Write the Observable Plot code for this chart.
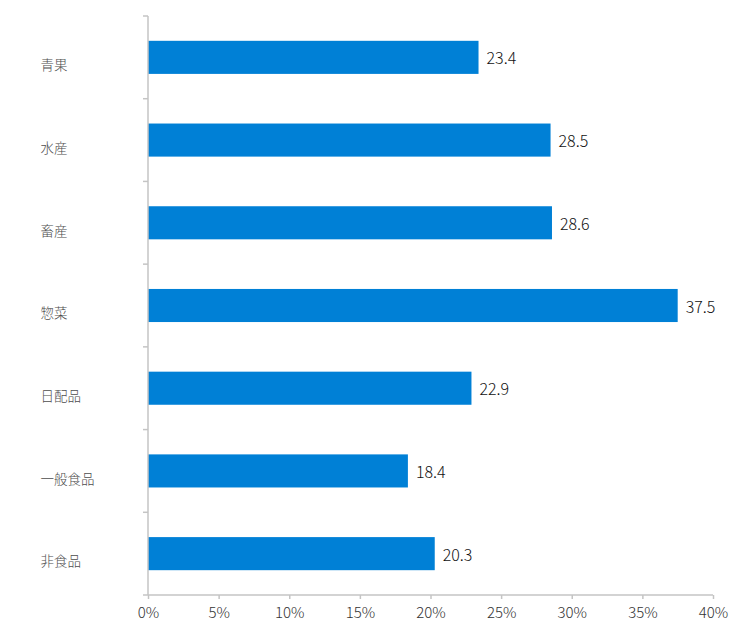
<!DOCTYPE html>
<html><head><meta charset="utf-8">
<script src="https://cdn.jsdelivr.net/npm/d3@7"></script>
<script src="https://cdn.jsdelivr.net/npm/@observablehq/plot@0.6"></script>
<style>body{margin:0;background:#fff;} svg{display:block;}</style>
</head><body><div id="chart"></div>
<script>
const categories = ["青果","水産","畜産","惣菜","日配品","一般食品","非食品"];
const values = [23.4, 28.5, 28.6, 37.5, 22.9, 18.4, 20.3];
const xTicks = [0,5,10,15,20,25,30,35,40];
const data = categories.map((c,i)=>({cat:c, value:values[i]}));
const axisColor = "#c4c4c4";
const font = "'Noto Sans CJK JP', 'Noto Sans', sans-serif";
const padInner = 0.6;

function axesLines(index, scales, vals, dims) {
  const y = scales.y, x = scales.x;
  const step = y(categories[1]) - y(categories[0]);
  const x0 = x(xTicks[0]);
  const g = d3.create("svg:g").attr("stroke", axisColor).attr("stroke-width", 1.5);
  const top = y(categories[0]) - step * padInner / 2;
  const bottom = top + categories.length * step;
  g.append("line").attr("x1", x0).attr("x2", x0).attr("y1", top).attr("y2", bottom);
  g.append("line").attr("x1", x0).attr("x2", x(xTicks[xTicks.length-1])).attr("y1", bottom).attr("y2", bottom);
  for (let i = 0; i <= categories.length; i++) {
    const yy = top + i*step;
    g.append("line").attr("x1", x0-5).attr("x2", x0).attr("y1", yy).attr("y2", yy);
  }
  return g.node();
}

const chart = Plot.plot({
  width: 738, height: 623,
  marginLeft: 148, marginRight: 25, marginTop: 16, marginBottom: 28,
  style: {fontFamily: font, background: "#fff", fontWeight: 300},
  x: {domain: [0, 40], ticks: xTicks, round: false},
  y: {domain: categories, paddingInner: padInner, paddingOuter: padInner / 2, align: 0.5, round: false, axis: null},
  marks: [
    Plot.barX(data, {x: "value", y: "cat", fill: "#0080d6"}),
    Plot.text(data, {x: "value", y: "cat", text: d => d.value.toFixed(1), dx: 7.5, dy: 1.5, textAnchor: "start", fontSize: 16, fontWeight: 300, fill: "#111111"}),
    Plot.text(data, {y: "cat", text: "cat", frameAnchor: "left", dx: -108, dy: 8, textAnchor: "start", fontSize: 13.5, fontWeight: 300, fill: "#4d4d4d"}),
    Plot.axisX({ticks: xTicks, tickFormat: d => d + "%", tickSize: 4, stroke: axisColor, strokeWidth: 1.5, fill: "#333333", fontSize: 15, fontWeight: 300, tickPadding: 8, label: null, fontFamily: font}),
    axesLines
  ]
});
document.getElementById("chart").appendChild(chart);
</script></body></html>
